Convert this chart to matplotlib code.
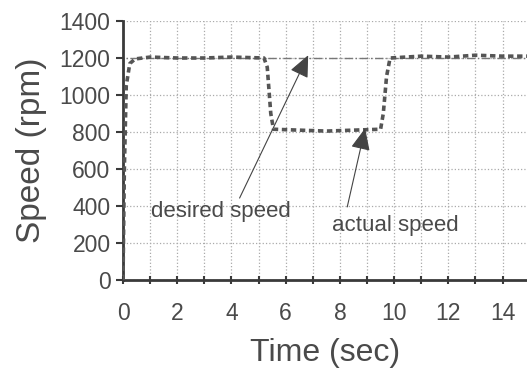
import matplotlib
matplotlib.use('Agg')
import matplotlib.pyplot as plt
from matplotlib.ticker import MultipleLocator

plt.rcParams['font.family'] = ['Liberation Sans', 'DejaVu Sans']

t_actual = [0.0, 0.05, 0.12, 0.25, 0.45, 1.0, 2.0, 3.0, 4.0, 5.2, 5.32, 5.45, 5.55,
            6.5, 7.5, 8.5, 9.5, 9.6, 9.72, 9.85, 11.0, 12.0, 13.0, 14.0, 14.9]
v_actual = [0, 600, 1050, 1170, 1195, 1205, 1200, 1200, 1205, 1200, 1150, 900, 815,
            810, 805, 810, 815, 900, 1100, 1200, 1210, 1205, 1215, 1210, 1210]

# desired (reference) speed
t_desired = [0.0, 0.0, 14.9]
v_desired = [0, 1200, 1200]

txt = '#4a4a4a'
fig = plt.figure(figsize=(5.27, 3.75), dpi=100)
ax = fig.add_axes([0.2334, 0.2533, 0.7666, 0.6907])

ax.plot(t_desired, v_desired, color='#777777', linewidth=1.0, linestyle=(0, (6, 2, 1, 2)), zorder=2)
ax.plot(t_actual, v_actual, color='#555555', linewidth=2.6, linestyle=(0, (1.5, 1.0)), zorder=3)

ax.set_xlim(0, 14.9)
ax.set_ylim(0, 1400)
ax.xaxis.set_major_locator(MultipleLocator(2))
ax.xaxis.set_minor_locator(MultipleLocator(1))
ax.yaxis.set_major_locator(MultipleLocator(200))

ax.grid(True, which='both', axis='x', linestyle=':', color='#aaaaaa', linewidth=0.9)
ax.grid(True, which='major', axis='y', linestyle=':', color='#aaaaaa', linewidth=0.9)

for s in ['top', 'right']:
    ax.spines[s].set_visible(False)
for s in ['left', 'bottom']:
    ax.spines[s].set_color('#3a3a3a')
    ax.spines[s].set_linewidth(2.0)

ax.tick_params(axis='x', which='both', direction='inout', length=6, width=1.5, color='#3a3a3a',
               labelsize=16.5, labelcolor=txt, pad=13)
ax.tick_params(axis='y', direction='out', length=5, width=1.5, color='#3a3a3a',
               labelsize=16.5, labelcolor=txt, pad=4)

ax.set_xlabel('Time (sec)', fontsize=23, color=txt, labelpad=9)
ax.set_ylabel('Speed (rpm)', fontsize=24, color=txt, labelpad=9)

arrow = dict(arrowstyle='-|>,head_length=0.45,head_width=0.2', mutation_scale=30,
             color='#444444', linewidth=0.8, shrinkA=0, shrinkB=0)
ax.text(3.6, 368, 'desired speed', fontsize=16, color=txt, ha='center', va='center')
ax.annotate('', xy=(6.83, 1215), xytext=(4.3, 443), arrowprops=arrow)
ax.text(10.05, 297, 'actual speed', fontsize=16, color=txt, ha='center', va='center')
ax.annotate('', xy=(8.93, 820), xytext=(8.27, 395), arrowprops=arrow)

fig.savefig('out.png', dpi=100)
